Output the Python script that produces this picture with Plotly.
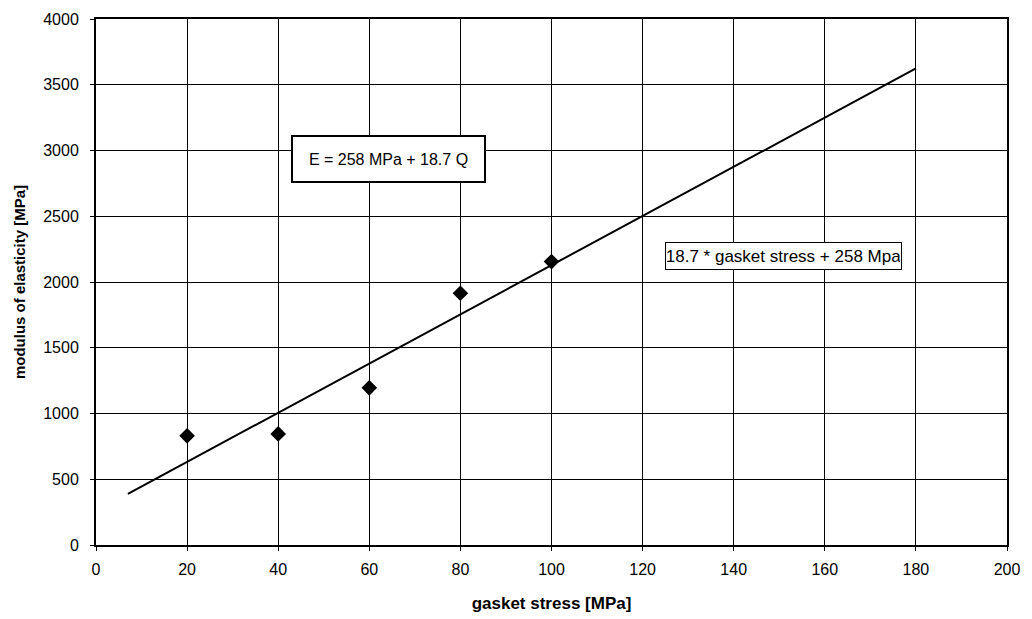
import plotly.graph_objects as go

# measured data points
stress = [20, 40, 60, 80, 100]
modulus = [830, 845, 1195, 1915, 2155]

# trend line endpoints
trend_x = [7, 180]
trend_y = [389, 3624]

x_ticks = [0, 20, 40, 60, 80, 100, 120, 140, 160, 180, 200]
y_ticks = [0, 500, 1000, 1500, 2000, 2500, 3000, 3500, 4000]

font_family = "Liberation Sans, Arial, sans-serif"

fig = go.Figure()
fig.add_trace(go.Scatter(x=trend_x, y=trend_y, mode="lines",
                         line=dict(color="black", width=2), showlegend=False))
fig.add_trace(go.Scatter(x=stress, y=modulus, mode="markers",
                         marker=dict(symbol="diamond", size=12, color="black"),
                         showlegend=False))

fig.add_annotation(x=64.3, y=2935, xref="x", yref="y", showarrow=False,
                   text="E = 258 MPa + 18.7 Q",
                   font=dict(family=font_family, size=16, color="black"),
                   bordercolor="black", borderwidth=2, bgcolor="white",
                   width=189, height=42, borderpad=1)
fig.add_annotation(x=151, y=2200, xref="x", yref="y", showarrow=False,
                   text="18.7 * gasket stress + 258 Mpa",
                   font=dict(family=font_family, size=17, color="black"),
                   bordercolor="black", borderwidth=1, bgcolor="white",
                   width=233, height=24, borderpad=1)

fig.update_layout(
    width=1024, height=611,
    margin=dict(l=88, r=25, t=11, b=74),
    paper_bgcolor="white", plot_bgcolor="white",
    font=dict(family=font_family, size=16, color="black"),
    xaxis=dict(range=[0, 200], tickvals=x_ticks, showgrid=True, gridcolor="black",
               gridwidth=1, zeroline=False, showline=True, linecolor="black",
               linewidth=2, mirror=True, ticks="outside", ticklen=4, tickcolor="black",
               tickfont=dict(size=16), ticklabelstandoff=5, automargin=False,
               title=dict(text="<b>gasket stress [MPa]</b>", font=dict(size=17), standoff=20)),
    yaxis=dict(range=[0, 4000], tickvals=y_ticks, showgrid=True, gridcolor="black",
               gridwidth=1, zeroline=False, showline=True, linecolor="black",
               linewidth=2, mirror=True, ticks="outside", ticklen=4, tickcolor="black",
               tickfont=dict(size=16), ticklabelstandoff=8, automargin=False,
               title=dict(text="<b>modulus of elasticity [MPa]</b>", font=dict(size=15), standoff=14)),
)

fig.write_html("out.html")
